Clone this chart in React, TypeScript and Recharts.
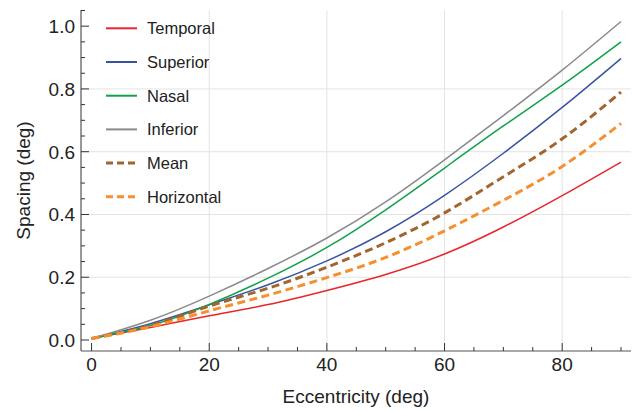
import { LineChart, Line, XAxis, YAxis, CartesianGrid, Legend } from "recharts";

// eccentricity (deg) sampled every 10 deg
const eccentricity = [0, 10, 20, 30, 40, 50, 60, 70, 80, 90];

// spacing (deg)
const temporal = [0.005, 0.04, 0.077, 0.113, 0.158, 0.209, 0.274, 0.36, 0.46, 0.567];
const superior = [0.005, 0.052, 0.112, 0.176, 0.252, 0.345, 0.461, 0.595, 0.741, 0.897];
const nasal = [0.005, 0.046, 0.113, 0.197, 0.295, 0.415, 0.548, 0.682, 0.812, 0.95];
const inferior = [0.005, 0.063, 0.14, 0.228, 0.325, 0.44, 0.574, 0.715, 0.86, 1.015];
const mean = [0.005, 0.046, 0.108, 0.165, 0.232, 0.31, 0.405, 0.52, 0.641, 0.79];
const horizontal = [0.005, 0.042, 0.093, 0.143, 0.199, 0.263, 0.348, 0.445, 0.553, 0.69];

const seriesNames = ["Temporal", "Superior", "Nasal", "Inferior", "Mean", "Horizontal"];
const seriesValues = [temporal, superior, nasal, inferior, mean, horizontal];

const xTicks = [0, 5, 10, 15, 20, 25, 30, 35, 40, 45, 50, 55, 60, 65, 70, 75, 80, 85, 90];
const xLabels = [0, 20, 40, 60, 80];
const yTicks = [0, 0.05, 0.1, 0.15, 0.2, 0.25, 0.3, 0.35, 0.4, 0.45, 0.5, 0.55, 0.6, 0.65, 0.7, 0.75, 0.8, 0.85, 0.9, 0.95, 1.0, 1.05];
const yLabels = [0, 0.2, 0.4, 0.6, 0.8, 1.0];
const xGrid = [20, 40, 60, 80];
const yGrid = [0.2, 0.4, 0.6, 0.8];

const styles: Record<string, { color: string; dash?: string; width: number }> = {
  Temporal: { color: "#e8262b", width: 1.5 },
  Superior: { color: "#3953a4", width: 1.5 },
  Nasal: { color: "#10a24a", width: 1.5 },
  Inferior: { color: "#8a8a8a", width: 1.5 },
  Mean: { color: "#a3652d", dash: "8 4.5", width: 3 },
  Horizontal: { color: "#f68f30", dash: "8 4.5", width: 3 },
};

const data = eccentricity.map((e, i) => {
  const row: Record<string, number> = { ecc: e };
  seriesNames.forEach((n, j) => (row[n] = seriesValues[j][i]));
  return row;
});

const FONT = "'Liberation Sans', Arial, sans-serif";
const FRAME = "#555";
const TICK = "#333";

const near = (list: number[], v: number) => list.some((m) => Math.abs(m - v) < 1e-6);

const BottomTick = (props: any) => {
  const { x, y, payload } = props;
  const v = payload.value;
  const major = near(xLabels, v);
  return (
    <g>
      <line x1={x} x2={x} y1={y} y2={y - (major ? 8 : 4)} stroke={TICK} />
      {major && (
        <text x={x} y={y + 20} textAnchor="middle" fontSize={19} fill="#222" fontFamily={FONT}>
          {v}
        </text>
      )}
    </g>
  );
};

const TopTick = (props: any) => {
  const { x, y, payload } = props;
  const major = near(xLabels, payload.value);
  return <line x1={x} x2={x} y1={y} y2={y + (major ? 8 : 4)} stroke={TICK} />;
};

const LeftTick = (props: any) => {
  const { x, y, payload } = props;
  const v = payload.value;
  const major = near(yLabels, v);
  return (
    <g>
      <line x1={x} x2={x + (major ? 8 : 4)} y1={y} y2={y} stroke={TICK} />
      {major && (
        <text x={x - 6} y={y + 7} textAnchor="end" fontSize={19} fill="#222" fontFamily={FONT}>
          {v.toFixed(1)}
        </text>
      )}
    </g>
  );
};

const RightTick = (props: any) => {
  const { x, y, payload } = props;
  const major = near(yLabels, payload.value);
  return <line x1={x} x2={x - (major ? 8 : 4)} y1={y} y2={y} stroke={TICK} />;
};

const renderLegend = () => (
  <svg width={160} height={210}>
    {seriesNames.map((n, i) => {
      const s = styles[n];
      const cy = 18.3 + i * 33.7;
      return (
        <g key={n}>
          <line x1={6} x2={37} y1={cy} y2={cy} stroke={s.color} strokeWidth={s.dash ? 3 : 2} strokeDasharray={s.dash ? "7 4" : undefined} />
          <text x={47} y={cy + 6} fontSize={16.5} fill="#222" fontFamily={FONT}>
            {n}
          </text>
        </g>
      );
    })}
  </svg>
);

export default function App() {
  return (
    <div style={{ position: "absolute", left: 0, top: 0 }}>
      <LineChart width={640} height={411} data={data} margin={{ top: 10, right: 9, bottom: 0, left: 0 }}>
        <CartesianGrid stroke="#e3e3e3" verticalValues={xGrid} horizontalValues={yGrid} />
        <XAxis
          dataKey="ecc"
          type="number"
          domain={[-1.8, 91.7]}
          allowDataOverflow
          ticks={xTicks}
          interval={0}
          height={60}
          tickSize={0}
          tickMargin={0}
          tickLine={false}
          axisLine={{ stroke: FRAME, strokeWidth: 1.2 }}
          tick={BottomTick}
          label={(p: any) => {
            const vb = p.viewBox;
            return (
              <text x={vb.x + vb.width / 2} y={vb.y + 52} textAnchor="middle" fontSize={19} fill="#222" fontFamily={FONT}>
                Eccentricity (deg)
              </text>
            );
          }}
        />
        <XAxis
          xAxisId="top"
          orientation="top"
          type="number"
          dataKey="ecc"
          domain={[-1.8, 91.7]}
          allowDataOverflow
          ticks={xTicks}
          interval={0}
          height={0}
          tickSize={0}
          tickMargin={0}
          tickLine={false}
          axisLine={{ stroke: FRAME, strokeWidth: 1.2 }}
          tick={TopTick}
        />
        <YAxis
          type="number"
          domain={[-0.035, 1.0515]}
          allowDataOverflow
          ticks={yTicks}
          interval={0}
          width={81}
          tickSize={0}
          tickMargin={0}
          tickLine={false}
          axisLine={{ stroke: FRAME, strokeWidth: 1.2 }}
          tick={LeftTick}
          label={() => (
            <text x={29.5} y={180.5} transform="rotate(-90 29.5 180.5)" textAnchor="middle" fontSize={19} fill="#222" fontFamily={FONT}>
              Spacing (deg)
            </text>
          )}
        />
        <YAxis
          yAxisId="right"
          orientation="right"
          type="number"
          domain={[-0.035, 1.0515]}
          allowDataOverflow
          ticks={yTicks}
          interval={0}
          width={0}
          tickSize={0}
          tickMargin={0}
          tickLine={false}
          axisLine={{ stroke: FRAME, strokeWidth: 1.2 }}
          tick={RightTick}
        />
        <Legend
          layout="vertical"
          align="center"
          verticalAlign="middle"
          content={renderLegend}
          wrapperStyle={{ left: 100, top: 10, width: 160, height: 210 }}
        />
        {seriesNames.map((n) => (
          <Line
            key={n}
            dataKey={n}
            type="natural"
            stroke={styles[n].color}
            strokeWidth={styles[n].width}
            strokeDasharray={styles[n].dash}
            dot={false}
            activeDot={false}
            isAnimationActive={false}
          />
        ))}
      </LineChart>
    </div>
  );
}
